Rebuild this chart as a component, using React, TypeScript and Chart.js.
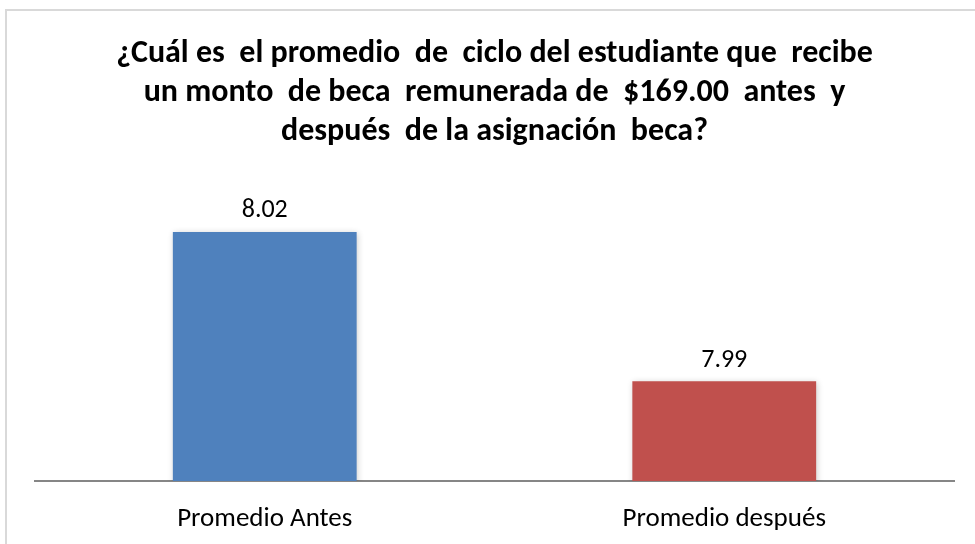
import React, { useEffect, useRef } from "react";
import { Chart, registerables } from "chart.js";

Chart.register(...registerables);

const categories = ["Promedio Antes", "Promedio después"];
const values = [8.02, 7.99];
const barColors = ["#4F81BD", "#C0504D"];
const titleLines = [
  "¿Cuál es  el promedio  de  ciclo del estudiante que  recibe",
  "un monto  de beca  remunerada de  $169.00  antes  y",
  "después  de la asignación  beca?",
];
const yMin = 7.97;
const yMax = 8.03;

const FONT = "Carlito, 'Liberation Sans Narrow', 'Liberation Sans', sans-serif";

const labelPlugin = {
  id: "valueLabels",
  afterDatasetsDraw(chart: any) {
    const ctx = chart.ctx;
    const meta = chart.getDatasetMeta(0);
    ctx.save();
    ctx.font = `26px ${FONT}`;
    ctx.fillStyle = "#000";
    ctx.textAlign = "center";
    ctx.textBaseline = "middle";
    meta.data.forEach((bar: any, i: number) => {
      ctx.fillText(values[i].toFixed(2), bar.x, bar.y - 21);
    });
    ctx.restore();
  },
};

const shadowPlugin = {
  id: "barShadow",
  beforeDatasetsDraw(chart: any) {
    const ctx = chart.ctx;
    ctx.save();
    ctx.shadowColor = "rgba(0,0,0,0.2)";
    ctx.shadowBlur = 6;
    ctx.shadowOffsetX = 1;
    ctx.shadowOffsetY = 1;
  },
  afterDatasetsDraw(chart: any) {
    chart.ctx.restore();
  },
};

export default function App() {
  const ref = useRef<HTMLCanvasElement>(null);
  useEffect(() => {
    document.body.style.margin = "0";
    const chart = new Chart(ref.current!, {
      type: "bar",
      data: {
        labels: categories,
        datasets: [
          {
            data: values,
            backgroundColor: barColors,
            barPercentage: 0.4,
            categoryPercentage: 1,
          },
        ],
      },
      options: {
        animation: false,
        responsive: false,
        layout: { padding: { left: 35, right: 21, top: 0, bottom: 12 } },
        plugins: {
          legend: { display: false },
          tooltip: { enabled: false },
          title: {
            display: true,
            text: titleLines,
            color: "#000",
            font: { family: FONT, size: 32, weight: "bold", lineHeight: 1.22 },
            padding: { top: 34, bottom: 31 },
          },
        },
        scales: {
          x: {
            grid: { display: false, drawTicks: false },
            border: { display: true, color: "#868686", width: 2 },
            ticks: { color: "#000", font: { family: FONT, size: 27 }, padding: 22 },
            afterFit(scale: any) {
              scale.height = 51;
            },
          },
          y: {
            display: false,
            min: yMin,
            max: yMax,
          },
        },
      },
      plugins: [shadowPlugin, labelPlugin],
    });
    return () => chart.destroy();
  }, []);
  return (
    <div style={{ position: "relative", width: 975, height: 544, overflow: "hidden", background: "#fff" }}>
      <div
        style={{
          position: "absolute",
          left: 5,
          top: 9,
          width: 1000,
          height: 600,
          border: "2px solid #d9d9d9",
        }}
      />
      <canvas ref={ref} width={975} height={544} style={{ position: "absolute", left: 0, top: 0 }} />
    </div>
  );
}
